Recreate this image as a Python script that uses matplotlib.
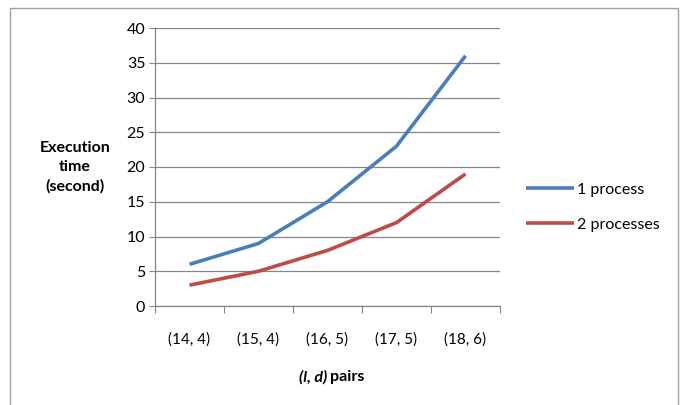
import matplotlib.pyplot as plt
from matplotlib.patches import Rectangle

pairs = ['(14, 4)', '(15, 4)', '(16, 5)', '(17, 5)', '(18, 6)']
one_proc = [6, 9, 15, 23, 36]
two_proc = [3, 5, 8, 12, 19]

plt.rcParams['font.family'] = ['Lato', 'DejaVu Sans']

fig = plt.figure(figsize=(6.83, 4.05), dpi=100)
ax = fig.add_axes([155 / 683, 1 - 306 / 405, 345 / 683, 278 / 405])

grid_c = '#868686'
x = range(len(pairs))
ax.plot(x, one_proc, color='#4a7ebb', lw=2.6, label='1 process', solid_capstyle='butt')
ax.plot(x, two_proc, color='#be4b48', lw=2.6, label='2 processes', solid_capstyle='butt')

ax.set_xlim(-0.5, len(pairs) - 0.5)
ax.set_ylim(0, 40)
ax.set_yticks(range(0, 41, 5))
ax.yaxis.grid(True, color=grid_c, lw=0.9)
ax.set_axisbelow(True)

ax.set_xticks([i - 0.5 for i in range(len(pairs) + 1)])
ax.set_xticklabels([])
ax.set_xticks(list(x), minor=True)
ax.set_xticklabels(pairs, minor=True, fontsize=11)
ax.tick_params(axis='x', which='minor', length=0, pad=19)
ax.tick_params(axis='x', which='major', length=5, color=grid_c, direction='out')
ax.tick_params(axis='y', length=4, color=grid_c, labelsize=11.5, pad=3)

for s in ['top', 'right']:
    ax.spines[s].set_visible(False)
for s in ['left', 'bottom']:
    ax.spines[s].set_color(grid_c)
    ax.spines[s].set_linewidth(0.9)

fig.text(75 / 683, 1 - 167 / 405, 'Execution\ntime\n(second)', ha='center', va='center',
         fontsize=11.5, fontweight='bold', linespacing=1.45)
fig.text(327 / 683, 1 - 377 / 405, '(l, d)', ha='right', va='center',
         fontsize=11.5, fontweight='bold', fontstyle='italic')
fig.text(330 / 683, 1 - 377 / 405, 'pairs', ha='left', va='center',
         fontsize=11.5, fontweight='bold')

fig.legend(loc='center left', bbox_to_anchor=(512 / 683, 1 - 207 / 405), frameon=False,
           fontsize=11.5, handlelength=3.0, handletextpad=0.15, labelspacing=1.3)

fig.patches.append(Rectangle((10 / 683, -0.1), 668 / 683, 1.1 - 8 / 405, transform=fig.transFigure,
                             fill=False, edgecolor='#a0a0a0', lw=1))

fig.savefig('out.png', dpi=100)
